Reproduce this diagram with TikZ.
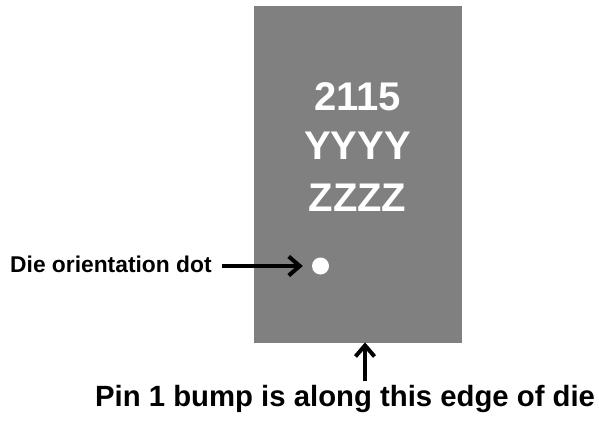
\documentclass[tikz,border=0pt]{standalone}
\usepackage{fontspec}
\setmainfont{Liberation Sans}
\usetikzlibrary{arrows.meta}
\definecolor{diegray}{HTML}{808080}
\begin{document}
\begin{tikzpicture}[x=1pt,y=-1pt,
  mark text/.style={text=white,font=\bfseries\fontsize{40}{40}\selectfont,anchor=base,inner sep=0pt},
  arr/.style={line width=4pt,-{Straight Barb[length=11pt,width=19pt,line width=4pt]}},
  label text/.style={font=\bfseries\fontsize{#1}{#1}\selectfont,anchor=base west,inner sep=0pt}]
\useasboundingbox[fill=white] (0,0) rectangle (599,426);
\node[fill=diegray,minimum width=208pt,minimum height=337pt,inner sep=0pt,anchor=north west] (die) at (254,6) {};
\node[mark text] (l1) at (357.5,110) {2115};
\node[mark text] (l2) at (357.5,159) {YYYY};
\node[mark text] (l3) at (357.5,211) {ZZZZ};
\node[circle,fill=white,minimum size=17pt,inner sep=0pt] (dot) at (320.5,266) {};
\node[label text=22.8] (lbl) at (10,272) {Die orientation dot};
\node[label text=29.3] (pin) at (95,406) {Pin 1 bump is along this edge of die};
\coordinate (a0) at (222,266);
\coordinate (b0) at (365,381);
\draw[arr] (a0) -- ([xshift=-9pt]dot.west);
\draw[arr] (b0) -- ([yshift=1pt]b0 |- die.south);
\end{tikzpicture}
\end{document}
